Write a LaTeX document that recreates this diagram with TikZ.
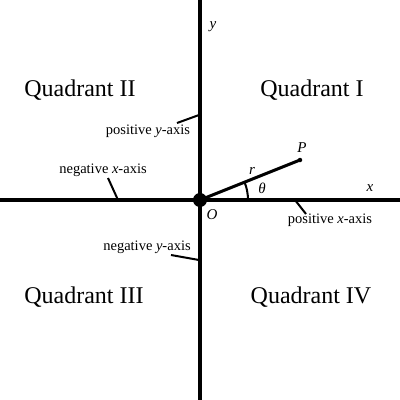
\documentclass[tikz,border=0pt]{standalone}
\usepackage{fontspec}
\setmainfont{Liberation Serif}
\begin{document}
\begin{tikzpicture}[x=1pt,y=-1pt,
  axis/.style={line width=4.5pt},
  ray/.style={line width=3pt},
  ticker/.style={line width=2pt},
  quad/.style={font=\fontsize{24}{27}\selectfont, inner sep=0pt},
  small/.style={font=\fontsize{14.5}{16}\selectfont, inner sep=0pt},
  lab/.style={font=\fontsize{15}{17}\selectfont\itshape, inner sep=0pt}]
\useasboundingbox (0,0) rectangle (400,400);
\coordinate (L) at (0,200);
\coordinate (R) at (400,200);
\coordinate (T) at (200,0);
\coordinate (B) at (200,400);
\draw[axis] (L) -- (R);
\draw[axis] (T) -- (B);
\node[circle, fill, inner sep=0pt, minimum size=14pt] (O) at (200,200) {};
\node[circle, fill, inner sep=0pt, minimum size=4.5pt] (P) at (300,160) {};
\draw[ray] (O.center) -- (P.center);
\draw[ticker] (O.center) ++(-21.8:48) arc[start angle=-21.8, end angle=0, radius=48];
% quadrant labels
\node[quad] (q1) at (312,90) {Quadrant I};
\node[quad] (q2) at (80,90) {Quadrant II};
\node[quad] (q3) at (84,297) {Quadrant III};
\node[quad] (q4) at (311,297) {Quadrant IV};
% axis letter labels
\node[lab] (ylab) at (213,27) {y};
\node[lab] (xlab) at (370,188) {x};
\node[lab] (Olab) at (212,215) {O};
\node[lab] (Plab) at (302,148) {P};
\node[lab] (rlab) at (252,171) {r};
\node[lab] (thlab) at (262,188) {θ};
% small labels with pointer ticks
\node[small] (py) at (148,131) {positive \textit{y}-axis};
\coordinate (py1) at (177,123);
\coordinate (py2) at (199,115);
\draw[ticker] (py1) -- (py2);
\node[small] (nx) at (103,170) {negative \textit{x}-axis};
\coordinate (nx1) at (108,178);
\coordinate (nx2) at (118,200);
\draw[ticker] (nx1) -- (nx2);
\node[small] (px) at (330,220) {positive \textit{x}-axis};
\coordinate (px1) at (295,200);
\coordinate (px2) at (306,214);
\draw[ticker] (px1) -- (px2);
\node[small] (ny) at (147,247) {negative \textit{y}-axis};
\coordinate (ny1) at (171,255);
\coordinate (ny2) at (199,260);
\draw[ticker] (ny1) -- (ny2);
\end{tikzpicture}
\end{document}
